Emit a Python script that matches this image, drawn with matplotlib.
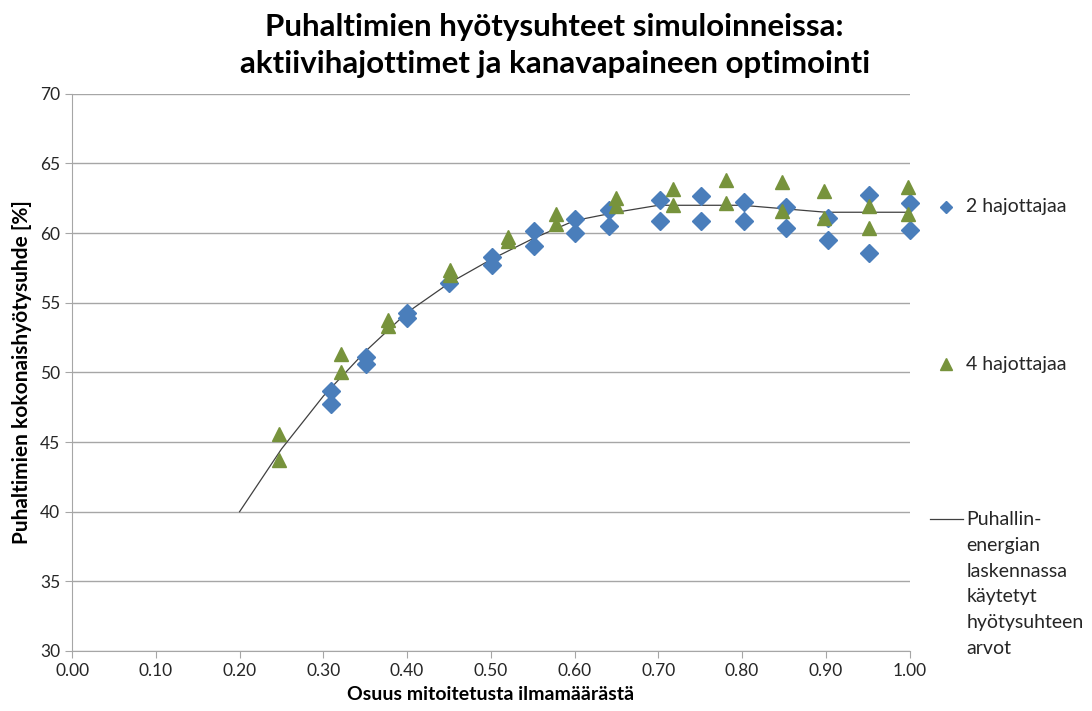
import numpy as np
import matplotlib
matplotlib.use('Agg')
import matplotlib.pyplot as plt
from matplotlib.lines import Line2D

plt.rcParams['font.family'] = ['Lato', 'DejaVu Sans']

# 2 hajottajaa (diamonds)
x2 = [0.309, 0.309, 0.351, 0.351, 0.400, 0.400, 0.450, 0.501, 0.501, 0.552, 0.552,
      0.600, 0.600, 0.641, 0.641, 0.702, 0.702, 0.751, 0.751, 0.802, 0.802,
      0.852, 0.852, 0.902, 0.902, 0.951, 0.951, 1.000, 1.000]
y2 = [48.7, 47.7, 51.1, 50.6, 54.25, 53.9, 56.4, 58.3, 57.7, 60.15, 59.05,
      61.05, 60.0, 61.65, 60.5, 62.35, 60.9, 62.7, 60.9, 62.25, 60.85,
      61.85, 60.35, 61.1, 59.5, 62.75, 58.6, 62.15, 60.2]

# 4 hajottajaa (triangles)
x4 = [0.247, 0.247, 0.321, 0.321, 0.377, 0.377, 0.451, 0.451, 0.521, 0.521,
      0.578, 0.578, 0.650, 0.650, 0.718, 0.718, 0.781, 0.781, 0.848, 0.848,
      0.898, 0.898, 0.951, 0.951, 0.998, 0.998]
y4 = [45.6, 43.7, 51.3, 50.05, 53.75, 53.3, 57.35, 57.0, 59.75, 59.4,
      61.35, 60.65, 62.5, 61.95, 63.15, 62.0, 63.8, 62.15, 63.65, 61.6,
      63.0, 61.1, 61.95, 60.4, 63.3, 61.4]

# efficiency curve used in fan energy calculation
xc = [0.20, 0.25, 0.30, 0.35, 0.40, 0.45, 0.50, 0.55, 0.60, 0.65, 0.70, 0.80, 0.90, 1.00]
yc = [40.0, 44.5, 48.3, 51.5, 54.3, 56.4, 58.1, 59.6, 60.9, 61.5, 62.0, 62.0, 61.5, 61.5]

blue = '#4A7EBB'
green = '#77933C'
grey = '#A6A6A6'
txt = '#262626'

fig = plt.figure(figsize=(10.92, 7.11), dpi=100)
ax = fig.add_axes([0.066, 0.0844, 0.767, 0.7836])

ax.plot(xc, yc, color='#404040', lw=0.9, zorder=2)
ax.plot(x2, y2, 'D', color=blue, ms=9, mec=blue, zorder=3, clip_on=False)
ax.plot(x4, y4, '^', color=green, ms=10.5, mec=green, zorder=4, clip_on=False)

ax.set_xlim(0, 1)
ax.set_ylim(30, 70)
ax.set_xticks(np.arange(0, 1.01, 0.1))
ax.set_xticklabels(['%.2f' % v for v in np.arange(0, 1.01, 0.1)])
ax.set_yticks(range(30, 71, 5))
ax.yaxis.grid(True, color=grey, lw=1)
ax.set_axisbelow(True)
for s in ['top', 'right']:
    ax.spines[s].set_visible(False)
for s in ['left', 'bottom']:
    ax.spines[s].set_color(grey)
ax.tick_params(axis='both', colors=grey, labelcolor=txt, labelsize=12.5,
               direction='out', length=5)

ax.set_xlabel('Osuus mitoitetusta ilmamäärästä', fontsize=14, fontweight='bold', labelpad=5)
ax.set_ylabel('Puhaltimien kokonaishyötysuhde [%]', fontsize=15, fontweight='bold', labelpad=6)

fig.suptitle('Puhaltimien hyötysuhteet simuloinneissa:\naktiivihajottimet ja kanavapaineen optimointi',
             fontsize=22.5, fontweight='bold', y=0.982, x=0.508, linespacing=1.4)

# legend on the right, entries spaced like the original
fig.add_artist(Line2D([0.866], [0.709], marker='D', color=blue, ms=6.5, transform=fig.transFigure))
fig.text(0.885, 0.709, '2 hajottajaa', fontsize=14, va='center', color=txt)
fig.add_artist(Line2D([0.866], [0.488], marker='^', color=green, ms=8.5, transform=fig.transFigure))
fig.text(0.885, 0.488, '4 hajottajaa', fontsize=14, va='center', color=txt)
fig.add_artist(Line2D([0.852, 0.882], [0.270, 0.270], color='#404040', lw=0.9, transform=fig.transFigure))
fig.text(0.885, 0.281, 'Puhallin-\nenergian\nlaskennassa\nkäytetyt\nhyötysuhteen\narvot',
         fontsize=14, va='top', color=txt, linespacing=1.62)

fig.savefig('out.png', dpi=100)
